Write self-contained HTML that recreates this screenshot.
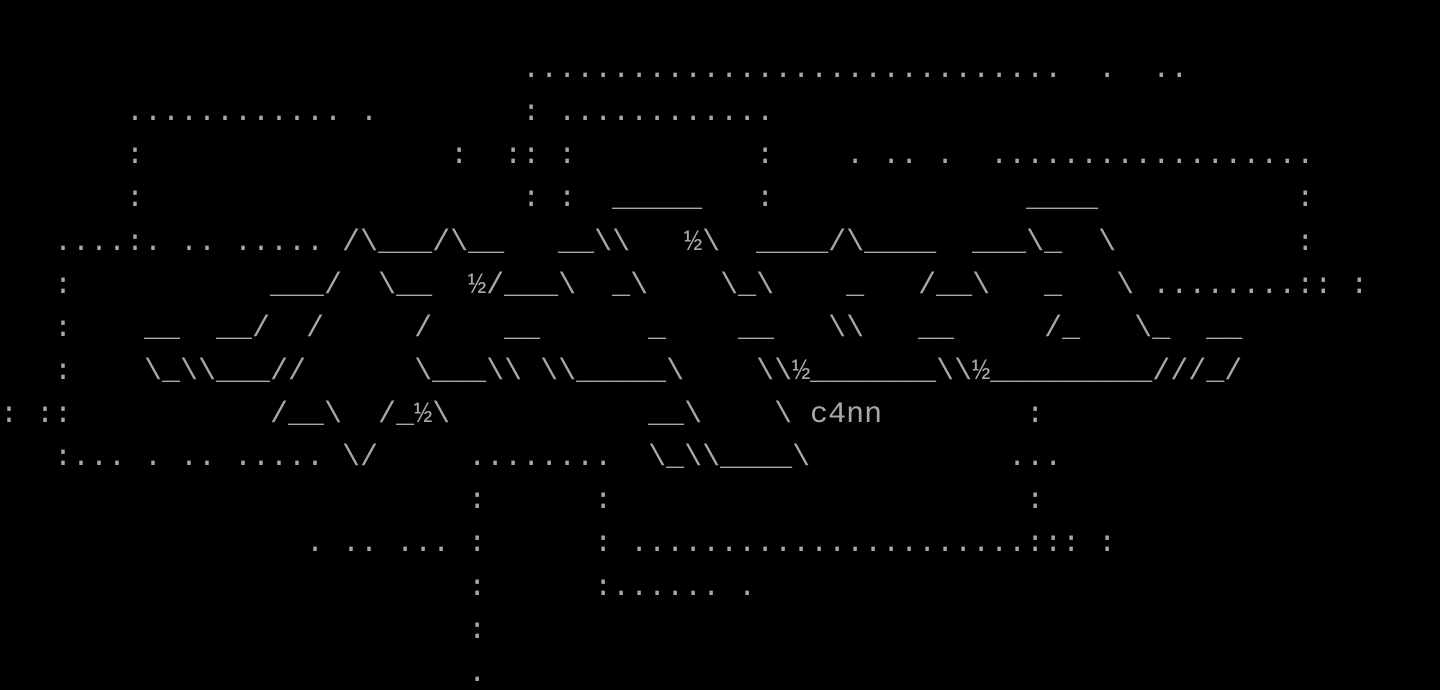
<!DOCTYPE html>
<html><head><meta charset="utf-8"><style>
html,body{margin:0;padding:0;background:#000;width:1440px;height:690px;overflow:hidden}
pre{margin:0;padding:49px 0 0 0;font-family:"Liberation Mono",monospace;font-size:30px;line-height:43.125px;color:#a8a8a8;white-space:pre}
</style></head><body><pre>
                             ..............................  .  ..
       ............ .        : ............
       :                 :  :: :          :    . .. .  ..................
       :                     : :  _____   :              ____           :
   ....:. .. ..... /\___/\__   __\\   ½\  ____/\____  ___\_  \          :
   :           ___/  \__  ½/___\  _\    \_\    _   /__\   _   \ ........:: :
   :    __  __/  /     /    __      _    __   \\   __     /_   \_  __
   :    \_\\___//      \___\\ \\_____\    \\½_______\\½_________///_/
: ::           /__\  /_½\           __\    \ c4nn        :
   :... . .. ..... \/     ........  \_\\____\           ...
                          :      :                       :
                 . .. ... :      : ......................::: :
                          :      :...... .
                          :
                          .</pre></body></html>
